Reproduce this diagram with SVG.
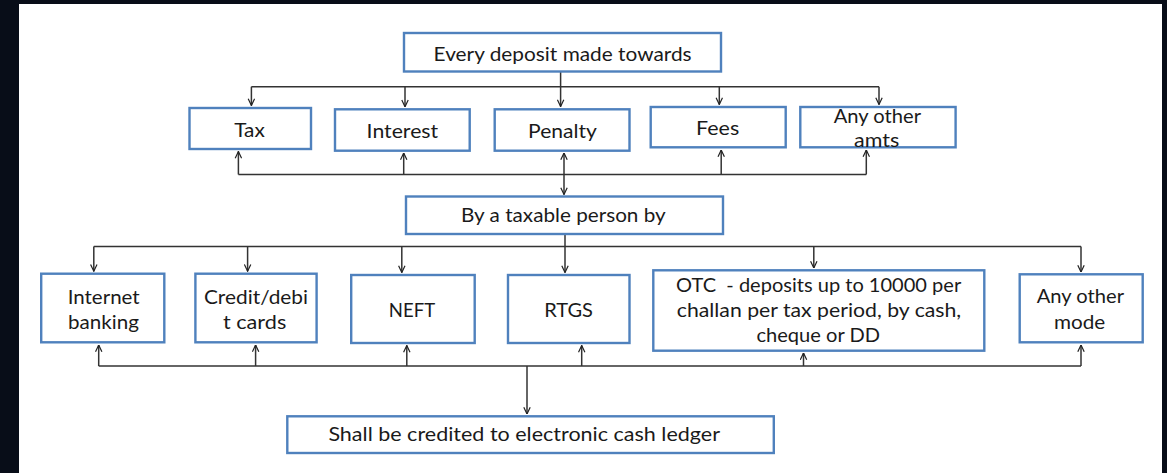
<svg xmlns="http://www.w3.org/2000/svg" width="1167" height="473" viewBox="0 0 1167 473">
<style>
.box{fill:#fff;stroke:#4f81bd;stroke-width:2.4}
.t{font-family:Lato,"Open Sans","Liberation Sans",sans-serif;font-size:19px;fill:#1a1a1a}
.c{fill:none;stroke:#333;stroke-width:1.5}
.a{marker-end:url(#arr)}
</style>
<defs>
<marker id="arr" viewBox="0 0 10 10" refX="9.5" refY="5" markerWidth="8" markerHeight="8" markerUnits="userSpaceOnUse" orient="auto">
<path d="M1,1 L9.5,5 L1,9" fill="none" stroke="#222" stroke-width="1.5"/>
</marker>
</defs>
<rect x="0" y="0" width="1167" height="473" fill="#080d18"/>
<rect x="19" y="4" width="1143" height="469" fill="#fff"/>

<g id="connectors">
<path class="c a" d="M560.6,72 V106.5"/>
<path class="c" d="M251.4,86.7 H879"/>
<path class="c a" d="M251.4,86.7 V105.5"/>
<path class="c a" d="M405,86.7 V106.8"/>
<path class="c a" d="M719.3,86.7 V104.5"/>
<path class="c a" d="M879,86.7 V104.5"/>

<path class="c" d="M238.4,174.5 H866.3"/>
<path class="c a" d="M238.4,174.5 V151.5"/>
<path class="c a" d="M403.7,174.5 V153"/>
<path class="c a" d="M564,174.5 V153"/>
<path class="c a" d="M564,174.5 V194.5"/>
<path class="c a" d="M721.2,174.5 V150"/>
<path class="c a" d="M866.3,174.5 V150"/>

<path class="c a" d="M565,235 V272.5"/>
<path class="c" d="M93.8,246.6 H1081"/>
<path class="c a" d="M93.8,246.6 V271.2"/>
<path class="c a" d="M247.6,246.6 V271.2"/>
<path class="c a" d="M401.8,246.6 V272.5"/>
<path class="c a" d="M813.8,246.6 V268"/>
<path class="c a" d="M1081,246.6 V272"/>

<path class="c" d="M98.7,366 H1081"/>
<path class="c a" d="M98.7,366 V345"/>
<path class="c a" d="M255.6,366 V345"/>
<path class="c a" d="M406.8,366 V345.5"/>
<path class="c a" d="M581.7,366 V345.5"/>
<path class="c a" d="M803.5,366 V353"/>
<path class="c a" d="M1081,366 V345"/>
<path class="c a" d="M527,366 V414"/>
</g>

<g id="n-every">
<rect class="box" x="404" y="33" width="317" height="38.5"/>
<text class="t" x="433.6" y="61" textLength="258" lengthAdjust="spacingAndGlyphs">Every deposit made towards</text>
</g>
<g id="n-tax">
<rect class="box" x="189.5" y="108" width="121.5" height="41"/>
<text class="t" x="234.2" y="136.7" textLength="30.6" lengthAdjust="spacingAndGlyphs">Tax</text>
</g>
<g id="n-interest">
<rect class="box" x="335" y="109.3" width="134.7" height="41.4"/>
<text class="t" x="366.6" y="137.5" textLength="71.6" lengthAdjust="spacingAndGlyphs">Interest</text>
</g>
<g id="n-penalty">
<rect class="box" x="494.7" y="109.3" width="134.8" height="41.4"/>
<text class="t" x="528.1" y="137.5" textLength="68.8" lengthAdjust="spacingAndGlyphs">Penalty</text>
</g>
<g id="n-fees">
<rect class="box" x="650.7" y="107" width="135" height="40.3"/>
<text class="t" x="696" y="135" textLength="43.2" lengthAdjust="spacingAndGlyphs">Fees</text>
</g>
<g id="n-anyamts">
<rect class="box" x="800.3" y="107" width="155.3" height="40.3"/>
<text class="t" x="833.7" y="122.7" textLength="87.3" lengthAdjust="spacingAndGlyphs">Any other</text>
<text class="t" x="854" y="146.7" textLength="45.2" lengthAdjust="spacingAndGlyphs">amts</text>
</g>
<g id="n-by">
<rect class="box" x="406" y="196.5" width="317" height="37.5"/>
<text class="t" x="461" y="221.7" textLength="204.7" lengthAdjust="spacingAndGlyphs">By a taxable person by</text>
</g>
<g id="n-internet">
<rect class="box" x="41.2" y="273.7" width="123.1" height="68.6"/>
<text class="t" x="67.7" y="304.3" textLength="72" lengthAdjust="spacingAndGlyphs">Internet</text>
<text class="t" x="68.1" y="329.3" textLength="70.8" lengthAdjust="spacingAndGlyphs">banking</text>
</g>
<g id="n-credit">
<rect class="box" x="195.4" y="273.7" width="121.2" height="68.6"/>
<text class="t" x="204" y="304.3" textLength="104" lengthAdjust="spacingAndGlyphs">Credit/debi</text>
<text class="t" x="223" y="329.3" textLength="63.3" lengthAdjust="spacingAndGlyphs">t cards</text>
</g>
<g id="n-neft">
<rect class="box" x="351.2" y="275" width="123.5" height="68"/>
<text class="t" x="388.8" y="317.3" textLength="46.3" lengthAdjust="spacingAndGlyphs">NEFT</text>
</g>
<g id="n-rtgs">
<rect class="box" x="508" y="275" width="121.5" height="68"/>
<text class="t" x="544.2" y="317.3" textLength="48.8" lengthAdjust="spacingAndGlyphs">RTGS</text>
</g>
<g id="n-otc">
<rect class="box" x="653.3" y="270.3" width="331" height="80.4"/>
<text class="t" x="676.1" y="291.7" textLength="285.1" lengthAdjust="spacingAndGlyphs" xml:space="preserve">OTC  - deposits up to 10000 per</text>
<text class="t" x="676.8" y="317.3" textLength="284.4" lengthAdjust="spacingAndGlyphs">challan per tax period, by cash,</text>
<text class="t" x="756.4" y="341.7" textLength="123.6" lengthAdjust="spacingAndGlyphs">cheque or DD</text>
</g>
<g id="n-anymode">
<rect class="box" x="1019.7" y="274.3" width="123" height="68"/>
<text class="t" x="1036.7" y="303.3" textLength="87.3" lengthAdjust="spacingAndGlyphs">Any other</text>
<text class="t" x="1054" y="328.7" textLength="51.3" lengthAdjust="spacingAndGlyphs">mode</text>
</g>
<g id="n-ledger">
<rect class="box" x="287.3" y="416.3" width="486.5" height="36.7"/>
<text class="t" x="328.4" y="440.5" textLength="391.6" lengthAdjust="spacingAndGlyphs">Shall be credited to electronic cash ledger</text>
</g>
</svg>
